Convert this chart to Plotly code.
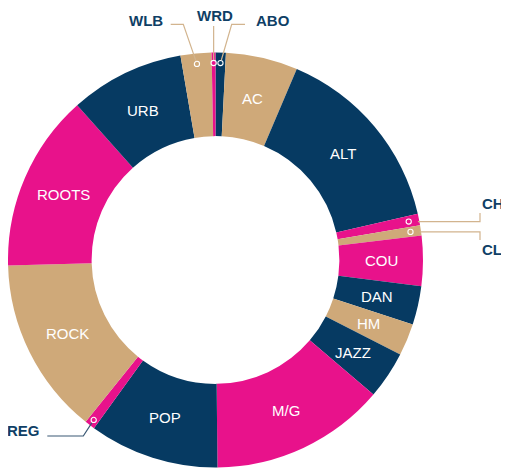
import math
import numpy as np
import plotly.graph_objects as go

# ---- data ----
categories = ["ABO", "AC", "ALT", "CHI", "CLA", "COU", "DAN", "HM", "JAZZ",
              "M/G", "POP", "REG", "ROCK", "ROOTS", "URB", "WLB", "WRD"]
shares = [0.8, 5.6, 15.0, 0.9, 0.8, 3.9, 3.0, 2.5, 3.7,
          13.6, 10.1, 0.8, 13.8, 13.8, 8.9, 2.4, 0.3]
outside_labels = ["ABO", "CHI", "CLA", "REG", "WLB", "WRD"]

NAVY = "#063a62"
TAN = "#cfa979"
PINK = "#e8128b"
color_key = ["N", "T", "N", "P", "T", "P", "N", "T", "N",
             "P", "N", "P", "T", "P", "N", "T", "P"]
palette = {"N": NAVY, "T": TAN, "P": PINK}
colors = [palette[k] for k in color_key]

# ---- geometry (screen pixels) ----
OFF = 8                      # default page body margin
W, H = 509 - OFF, 468 - OFF  # figure size so that it fits the window
CX, CY, R = 215.5, 260, 207.5
HOLE = 0.597
r_in = R * HOLE


def fx(x):
    return (x - OFF) / W


def fy(y):
    return 1 - (y - OFF) / H


def clamp(v):
    return min(1.0, max(0.0, v))


fig = go.Figure(go.Pie(
    labels=categories, values=shares, sort=False, direction="clockwise",
    rotation=0, hole=HOLE, textinfo="none", hoverinfo="label+percent",
    marker=dict(colors=colors, line=dict(width=0)),
    domain=dict(x=[clamp(fx(CX - R)), clamp(fx(CX + R))],
                y=[clamp(fy(CY + R)), clamp(fy(CY - R))]),
    showlegend=False,
))

vals = np.array(shares, dtype=float)
cum = np.cumsum(vals)
mid_deg = (cum - vals / 2) / vals.sum() * 360.0


def polar(radius, deg):
    a = math.radians(deg)
    return CX + radius * math.sin(a), CY - radius * math.cos(a)


annotations = []
shapes = []
LABEL_FONT = "Liberation Sans, Arial, sans-serif"

# inside labels
r_mid = (R + r_in) / 2
for cat, d in zip(categories, mid_deg):
    if cat in outside_labels:
        continue
    x, y = polar(r_mid, d)
    annotations.append(dict(x=fx(x), y=fy(y), xref="paper", yref="paper",
                            text=cat, showarrow=False,
                            font=dict(color="white", size=15, family=LABEL_FONT),
                            xanchor="center", yanchor="middle"))

# outside labels: leader waypoints (pixels), text anchor
LINE_TAN = "#d2b48e"
LINE_NAVY = "#3a5874"
RIGHT_X = 480
outside_cfg = {
    "WLB": dict(dot_r=197, start="dot", pts=[(183.3, 24.3), (170.7, 24.3)],
                text=(165, 21), xanchor="right", color=LINE_TAN),
    "WRD": dict(dot_r=197, start="dot", pts=None, text=(214.5, 15),
                xanchor="center", color=LINE_TAN, vertical_to=26),
    "ABO": dict(dot_r=197, start="dot", pts=[(231.7, 24.3), (245, 24.3)],
                text=(254, 21), xanchor="left", color=LINE_TAN),
    "CHI": dict(dot_r=197, start="edge", tick=-8.5, text=(RIGHT_X, 203),
                xanchor="left", color=LINE_TAN),
    "CLA": dict(dot_r=197, start="edge", tick=8, text=(RIGHT_X, 249),
                xanchor="left", color=LINE_TAN),
    "REG": dict(dot_r=201, start="dot", pts=[(83.3, 436), (47.3, 436)],
                text=(42, 430), xanchor="right", color=LINE_NAVY),
}

idx = {c: i for i, c in enumerate(categories)}
for cat, cfg in outside_cfg.items():
    i = idx[cat]
    dx, dy = polar(cfg["dot_r"], mid_deg[i])
    if cfg["start"] == "dot":
        pts = [(dx, cfg["vertical_to"])] if cfg["pts"] is None else cfg["pts"]
        ex, ey = pts[0]
        L = math.hypot(ex - dx, ey - dy)
        sx, sy = dx + (ex - dx) / L * 3.2, dy + (ey - dy) / L * 3.2
        path_pts = [(sx, sy)] + pts
    else:
        xe = CX + math.sqrt(R ** 2 - (dy - CY) ** 2) - 1.5
        tx = cfg["text"][0]
        path_pts = [(xe, dy), (tx, dy), (tx, dy + cfg["tick"])]
    path = "M " + " L ".join(f"{fx(x):.5f},{fy(y):.5f}" for x, y in path_pts)
    shapes.append(dict(type="path", path=path, xref="paper", yref="paper",
                       line=dict(color=cfg["color"], width=1.2), layer="above"))
    rr = 2.6
    shapes.append(dict(type="circle", xref="paper", yref="paper",
                       x0=fx(dx - rr), x1=fx(dx + rr), y0=fy(dy + rr), y1=fy(dy - rr),
                       line=dict(color="white", width=1.1),
                       fillcolor=colors[i], layer="above"))
    annotations.append(dict(x=fx(cfg["text"][0]), y=fy(cfg["text"][1]),
                            xref="paper", yref="paper",
                            text="<b>" + cat + "</b>", showarrow=False,
                            font=dict(color="#0f3f66", size=15, family=LABEL_FONT),
                            xanchor=cfg["xanchor"], yanchor="middle"))

fig.update_layout(
    width=W, height=H, margin=dict(l=0, r=0, t=0, b=0),
    paper_bgcolor="white", plot_bgcolor="white",
    annotations=annotations, shapes=shapes,
)

fig.write_html("out.html")
